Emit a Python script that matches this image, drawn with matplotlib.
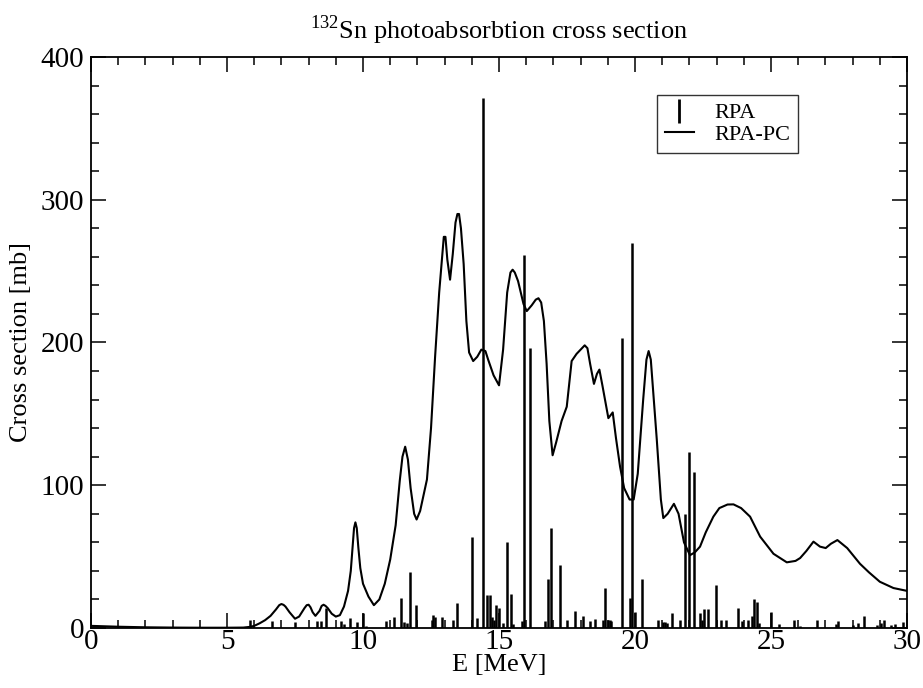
import matplotlib

matplotlib.use("Agg")
import matplotlib.pyplot as plt
from matplotlib.lines import Line2D
from matplotlib.ticker import MultipleLocator

# RPA-PC smoothed cross section (E in MeV, sigma in mb)
pc_energy = [0.0, 1.0, 2.0, 3.0, 4.0, 5.0, 5.6, 5.85, 6.0, 6.2, 6.4, 6.6, 6.8, 6.92, 7.0, 7.08, 7.15,
             7.3, 7.5, 7.65, 7.85, 7.93, 8.0, 8.07, 8.15, 8.25, 8.4, 8.48, 8.55, 8.62, 8.7, 8.85, 9.0,
             9.15, 9.3, 9.45, 9.55, 9.62, 9.67, 9.72, 9.77, 9.83, 9.9, 10.0, 10.2, 10.4, 10.6, 10.8,
             11.0, 11.2, 11.35, 11.45, 11.55, 11.65, 11.75, 11.88, 11.97, 12.1, 12.35, 12.5, 12.65,
             12.8, 12.9, 12.97, 13.03, 13.1, 13.2, 13.3, 13.4, 13.47, 13.53, 13.6, 13.7, 13.8, 13.9,
             14.05, 14.2, 14.35, 14.5, 14.6, 14.8, 15.0, 15.15, 15.3, 15.42, 15.5, 15.58, 15.7, 15.9,
             16.02, 16.2, 16.35, 16.45, 16.55, 16.65, 16.75, 16.85, 16.97, 17.1, 17.3, 17.49, 17.6,
             17.67, 17.85, 18.0, 18.15, 18.25, 18.35, 18.49, 18.6, 18.69, 18.8, 19.02, 19.18, 19.3,
             19.45, 19.6, 19.8, 19.95, 20.1, 20.3, 20.42, 20.5, 20.58, 20.8, 20.95, 21.04, 21.2,
             21.43, 21.6, 21.8, 22.02, 22.2, 22.39, 22.6, 22.88, 23.1, 23.4, 23.62, 23.9, 24.23,
             24.6, 25.09, 25.58, 25.9, 26.07, 26.3, 26.56, 26.8, 27.01, 27.2, 27.44, 27.8, 28.27,
             28.6, 29.0, 29.5, 30.0]
pc_sigma = [1.5, 0.9, 0.5, 0.3, 0.2, 0.2, 0.3, 0.8, 1.5, 3.3, 5.5, 8.5, 13, 16, 16.8, 16.2, 15,
            11, 6.5, 8, 14, 16, 16.3, 14.5, 11, 8.5, 12, 15.5, 16.3, 15.5, 14, 10, 8,
            9, 15, 26, 40, 58, 70, 74, 70, 56, 42, 31, 22, 16, 20, 31,
            48, 72, 103, 120, 127, 118, 98, 80, 76, 82, 104, 140, 190,
            235, 258, 274, 274, 258, 244, 262, 284, 290, 290, 280, 255, 215, 193,
            187, 190, 195, 194, 188, 177, 170, 195, 235, 249, 251, 249, 243, 227,
            222, 226, 230, 231, 228, 215, 185, 145, 121, 130, 145, 155, 175,
            187, 192, 195, 198, 196, 185, 171, 178, 181, 170, 147, 151, 133,
            113, 98, 90, 90, 108, 160, 188, 194, 188, 132, 90, 77, 80,
            87, 80, 60, 51, 53, 57, 67, 78, 84, 86.5, 86.6, 84, 78,
            64, 52, 46, 47, 49, 54, 60.5, 57, 56, 59, 61.6, 56, 45,
            39, 32.4, 28, 26]

# discrete RPA strengths
rpa_energy = [5.85, 6.67, 7.5, 8.32, 8.44, 8.63, 9.18, 9.30, 9.52, 9.78, 10.01, 10.1,
              10.85, 11.14, 11.40, 11.51, 11.6, 11.74, 11.95, 12.52, 12.59, 12.65, 12.89,
              13.32, 13.44, 14.02, 14.19, 14.40, 14.55, 14.67, 14.73, 14.8, 14.89, 15.01,
              15.16, 15.28, 15.44, 15.5, 15.83, 15.92, 16.13, 16.69, 16.81, 16.91, 17.24,
              17.51, 17.81, 18.10, 18.33, 18.53, 18.81, 18.90, 19.0, 19.07, 19.13, 19.53,
              19.82, 19.89, 20.0, 20.26, 20.83, 21.02, 21.1, 21.18, 21.37, 21.66, 21.84,
              21.99, 22.18, 22.39, 22.45, 22.55, 22.70, 22.98, 23.15, 23.35, 23.80, 23.95,
              24.17, 24.29, 24.39, 24.47, 24.55, 25.0, 25.3, 25.85, 26.05, 26.68, 27.38,
              27.48, 28.0, 28.21, 28.43, 28.9, 29.04, 29.15, 29.4, 29.56, 29.86]
rpa_sigma = [5.4, 4.9, 4.2, 4.9, 4.9, 14, 4.9, 3, 7, 4.2, 10.7, 1.6,
             4.9, 7.7, 21.3, 4.2, 3.5, 39, 16.3, 5.4, 9.3, 7.7, 8,
             5.8, 17.3, 64, 7.2, 371, 23, 23, 7.7, 5.4, 16, 14,
             3.7, 60, 24, 2.6, 4.9, 261, 196, 4.9, 34, 70, 44,
             5.4, 12, 8.4, 4.9, 6.1, 5.4, 28, 5.8, 5.4, 4.9, 203,
             21, 270, 11, 34, 5.8, 4.2, 4.2, 3.5, 10.5, 5.8, 80,
             123, 109, 10.5, 5.8, 13.3, 13.3, 30, 5.8, 5.8, 14, 4.7,
             5.8, 8.2, 20.3, 18, 3.5, 11.2, 2.8, 5.8, 1.6, 5.8, 2.8,
             5.1, 1.9, 3.5, 8.2, 1.9, 3.5, 5.4, 1.9, 2.8, 4]

plt.rcParams["font.family"] = ["Liberation Serif", "DejaVu Serif"]
plt.rcParams["mathtext.fontset"] = "custom"
plt.rcParams["mathtext.rm"] = "Liberation Serif"

fig = plt.figure(figsize=(9.23, 6.88), dpi=100)
ax = fig.add_axes([0.0986, 0.0872, 0.8841, 0.83])

ax.vlines(rpa_energy, 0, rpa_sigma, colors="black", linewidth=1.8)
ax.plot(pc_energy, pc_sigma, color="black", linewidth=1.5)

ax.set_xlim(0, 30)
ax.set_ylim(0, 400)
ax.xaxis.set_major_locator(MultipleLocator(5))
ax.xaxis.set_minor_locator(MultipleLocator(1))
ax.yaxis.set_major_locator(MultipleLocator(100))
ax.yaxis.set_minor_locator(MultipleLocator(20))
ax.tick_params(which="both", direction="in", top=True, right=True, width=1.1, labelsize=21)
ax.tick_params(which="major", length=11, pad=1)
ax.tick_params(which="minor", length=5.5)
ax.tick_params(axis="y", pad=5)
for s in ax.spines.values():
    s.set_linewidth(1.3)

ax.set_xlabel("E [MeV]", fontsize=19, labelpad=-1)
ax.set_ylabel("Cross section [mb]", fontsize=19, labelpad=6)
ax.set_title(r"$^{132}$Sn photoabsorbtion cross section", fontsize=19, pad=13)

handles = [Line2D([], [], color="black", marker="|", linestyle="none", markersize=17, markeredgewidth=2),
           Line2D([], [], color="black", linewidth=1.5)]
leg = ax.legend(handles, ["RPA", "RPA-PC"], loc="lower right", bbox_to_anchor=(0.866, 0.832),
                fontsize=16, frameon=True, fancybox=False, edgecolor="black",
                borderpad=0.35, labelspacing=0.05, handlelength=1.3, handletextpad=0.9,
                borderaxespad=0)
leg.get_frame().set_linewidth(1.0)

fig.savefig("out.png", dpi=100)
plt.close(fig)
